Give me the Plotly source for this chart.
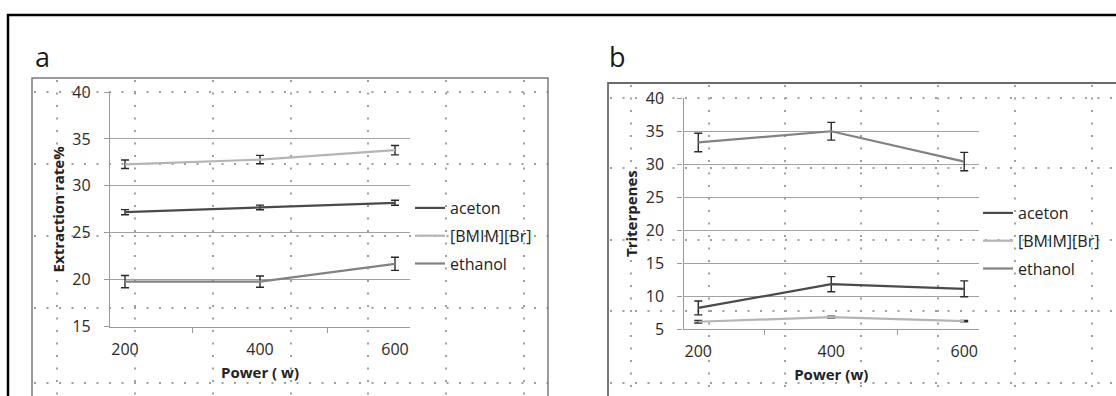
import plotly.graph_objects as go

W, H = 1116, 396

# ---- data ----
power = ["200", "400", "600"]
series_names = ["aceton", "[BMIM][Br]", "ethanol"]

a_aceton = [27.2, 27.7, 28.2]
a_aceton_err = [0.27, 0.25, 0.27]
a_bmim = [32.3, 32.8, 33.8]
a_bmim_err = [0.45, 0.45, 0.5]
a_ethanol = [19.8, 19.8, 21.7]
a_ethanol_err = [0.65, 0.6, 0.7]

b_aceton = [8.2, 11.8, 11.1]
b_aceton_err = [1.05, 1.15, 1.2]
b_bmim = [6.1, 6.8, 6.2]
b_bmim_err = [0.2, 0.15, 0.1]
b_ethanol = [33.3, 35.0, 30.4]
b_ethanol_err = [1.4, 1.35, 1.4]

a_yticks = [15, 20, 25, 30, 35, 40]
b_yticks = [5, 10, 15, 20, 25, 30, 35, 40]

colors = {"aceton": "#4a4a4a", "[BMIM][Br]": "#b4b4b4", "ethanol": "#828282"}

FONT = "Open Sans"


def X(px):
    return px / W


def Y(py):
    return 1 - py / H


fig = go.Figure()

panels = [
    ("x", "y", "legend", [a_aceton, a_bmim, a_ethanol], [a_aceton_err, a_bmim_err, a_ethanol_err]),
    ("x2", "y2", "legend2", [b_aceton, b_bmim, b_ethanol], [b_aceton_err, b_bmim_err, b_ethanol_err]),
]
for xa, ya, lg, vals, errs in panels:
    for name, v, e in zip(series_names, vals, errs):
        fig.add_trace(go.Scatter(
            x=power, y=v, name=name, mode="lines",
            xaxis=xa, yaxis=ya, legend=lg, legendgroup=lg + name,
            line=dict(color=colors[name], width=2.2),
            error_y=dict(type="data", array=e, visible=True, color="#2a2a2a",
                         thickness=1.4, width=4),
        ))

axis_common = dict(
    showline=True, linecolor="#9a9a9a", linewidth=1.3,
    ticks="outside", ticklen=5, tickcolor="#9a9a9a",
    tickfont=dict(family=FONT, size=16, color="#2a2a2a"),
    zeroline=False, automargin=False,
)

fig.update_layout(
    width=W, height=H, autosize=False,
    margin=dict(l=0, r=0, t=0, b=0, pad=0, autoexpand=False),
    paper_bgcolor="white", plot_bgcolor="rgba(0,0,0,0)",
    font=dict(family=FONT, color="#222"),
    xaxis=dict(domain=[X(110), X(410)], anchor="y", type="category",
               tickson="boundaries", showgrid=False, ticklabelstandoff=8,
               title=dict(text="<b>Power ( w)</b>", font=dict(family=FONT, size=15, color="#222"), standoff=8),
               **axis_common),
    yaxis=dict(domain=[Y(326.7), Y(92)], anchor="x", range=[15, 40],
               tickvals=a_yticks, showgrid=True, gridcolor="#a2a2a2", gridwidth=1.3,
               ticklabelstandoff=10,
               title=dict(text="<b>Extraction rate%</b>", font=dict(family=FONT, size=15, color="#222"), standoff=4),
               **axis_common),
    xaxis2=dict(domain=[X(683.5), X(979)], anchor="y2", type="category",
                tickson="boundaries", showgrid=False, ticklabelstandoff=8,
                title=dict(text="<b>Power (w)</b>", font=dict(family=FONT, size=15, color="#222"), standoff=8),
                **axis_common),
    yaxis2=dict(domain=[Y(329), Y(98.3)], anchor="x2", range=[5, 40],
                tickvals=b_yticks, showgrid=True, gridcolor="#a2a2a2", gridwidth=1.3,
                ticklabelstandoff=10,
                title=dict(text="<b>Triterpenes</b>", font=dict(family=FONT, size=15, color="#222"), standoff=4),
                **axis_common),
    legend=dict(x=X(410), y=Y(191), xanchor="left", yanchor="top",
                bgcolor="rgba(0,0,0,0)", traceorder="grouped", tracegroupgap=4,
                font=dict(family=FONT, size=16, color="#222")),
    legend2=dict(x=X(978), y=Y(196), xanchor="left", yanchor="top",
                 bgcolor="rgba(0,0,0,0)", traceorder="grouped", tracegroupgap=4,
                 font=dict(family=FONT, size=16, color="#222")),
    showlegend=True,
)

shapes = []
dot = dict(color="#a0a0a0", width=2, dash="2px,10.5px")

# background dotted cell grid, panel a
for gx in [57, 135, 213, 291, 368, 446, 524]:
    shapes.append(dict(type="line", xref="paper", yref="paper", x0=X(gx), x1=X(gx),
                       y0=Y(80), y1=Y(400), line=dot, layer="below"))
for gy in [92, 164, 236, 308, 383]:
    shapes.append(dict(type="line", xref="paper", yref="paper", x0=X(34), x1=X(548),
                       y0=Y(gy), y1=Y(gy), line=dot, layer="below"))
# background dotted cell grid, panel b
for gx in [631, 709, 785, 861, 938, 1015, 1092]:
    shapes.append(dict(type="line", xref="paper", yref="paper", x0=X(gx), x1=X(gx),
                       y0=Y(85), y1=Y(400), line=dot, layer="below"))
for gy in [98, 168, 240, 311, 383]:
    shapes.append(dict(type="line", xref="paper", yref="paper", x0=X(610), x1=X(1120),
                       y0=Y(gy), y1=Y(gy), line=dot, layer="below"))

# panel frames
shapes.append(dict(type="rect", xref="paper", yref="paper", x0=X(32), x1=X(548),
                   y0=Y(402), y1=Y(78), line=dict(color="#7a7a7a", width=1.5), layer="below"))
shapes.append(dict(type="rect", xref="paper", yref="paper", x0=X(608), x1=X(1122),
                   y0=Y(402), y1=Y(83), line=dict(color="#6a6a6a", width=1.8), layer="below"))
# outer black frame
shapes.append(dict(type="line", xref="paper", yref="paper", x0=X(7), x1=X(1120),
                   y0=Y(15), y1=Y(15), line=dict(color="black", width=2.5)))
shapes.append(dict(type="line", xref="paper", yref="paper", x0=X(8), x1=X(8),
                   y0=Y(14), y1=Y(400), line=dict(color="black", width=2.5)))
fig.update_layout(shapes=shapes)

fig.add_annotation(text="a", xref="paper", yref="paper", x=X(42), y=Y(56),
                   xanchor="center", yanchor="middle",
                   showarrow=False, font=dict(family=FONT, size=27, color="#1a1a1a"))
fig.add_annotation(text="b", xref="paper", yref="paper", x=X(617), y=Y(56),
                   xanchor="center", yanchor="middle",
                   showarrow=False, font=dict(family=FONT, size=27, color="#1a1a1a"))

fig.write_html("out.html")
